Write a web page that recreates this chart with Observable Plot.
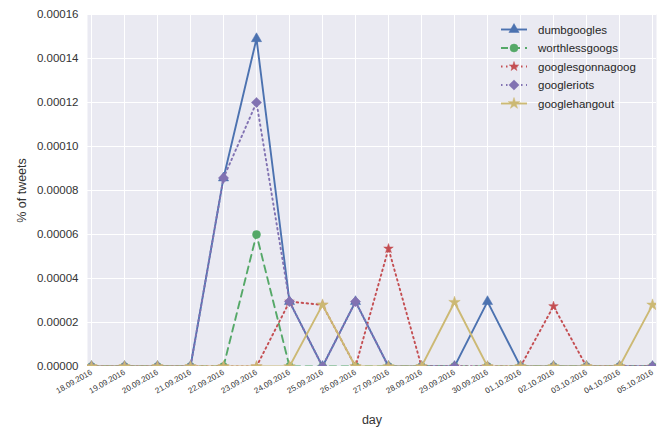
<!DOCTYPE html>
<html><head><meta charset="utf-8">
<script src="https://cdn.jsdelivr.net/npm/d3@7"></script>
<script src="https://cdn.jsdelivr.net/npm/@observablehq/plot@0.6"></script>
<style>
body{margin:0;background:#fff;font-family:"Liberation Sans",Arial,sans-serif}
#chart{position:relative;width:669px;height:430px}
</style>
</head><body><div id="chart"></div>
<script>
const days = ["18.09.2016","19.09.2016","20.09.2016","21.09.2016","22.09.2016","23.09.2016","24.09.2016","25.09.2016","26.09.2016","27.09.2016","28.09.2016","29.09.2016","30.09.2016","01.10.2016","02.10.2016","03.10.2016","04.10.2016","05.10.2016"];
const seriesNames = ["dumbgoogles","worthlessgoogs","googlesgonnagoog","googleriots","googlehangout"];
const dumbgoogles      = [0,0,0,0,0.0000857,0.000149,0.0000295,0,0.0000295,0,0,0,0.0000295,0,0,0,0,0];
const worthlessgoogs   = [0,0,0,0,0,0.00006,0,0,0,0,0,0,0,0,0,0,0,0];
const googlesgonnagoog = [0,0,0,0,0,0,0.0000295,0.0000280,0,0.0000536,0,0,0,0,0.0000274,0,0,0];
const googleriots      = [0,0,0,0,0.0000857,0.000120,0.0000295,0,0.0000295,0,0,0,0,0,0,0,0,0];
const googlehangout    = [0,0,0,0,0,0,0,0.0000280,0,0,0,0.0000292,0,0,0,0,0,0.0000280];
const yTicks = [0,0.00002,0.00004,0.00006,0.00008,0.0001,0.00012,0.00014,0.00016];

const valuesBySeries = [dumbgoogles, worthlessgoogs, googlesgonnagoog, googleriots, googlehangout];
const styles = [
  {color:"#4C72B0", dash:null,  symbol:"triangle", r:3.8},
  {color:"#55A868", dash:"7,5", symbol:"circle",   r:4},
  {color:"#C44E52", dash:"1.5,3.5", symbol:"star", r:3},
  {color:"#8172B2", dash:"1.5,3.5", symbol:"diamond2", r:4.6},
  {color:"#CCB974", dash:null,  symbol:"star",     r:3.6}
];

const marks = [
  Plot.frame({fill:"#EAEAF2", stroke:null}),
  Plot.gridX(days, {stroke:"#fff", strokeOpacity:1, strokeWidth:1}),
  Plot.gridY(yTicks, {stroke:"#fff", strokeOpacity:1, strokeWidth:1}),
  Plot.axisY(yTicks, {tickSize:0, tickPadding:9, fontSize:11.5, fill:"#333", tickFormat:d3.format(".5f"), label:"% of tweets", labelAnchor:"center", labelOffset:70, labelArrow:false}),
  Plot.axisX(days, {tickSize:0, tickPadding:5, tickRotate:-30, fontSize:8, fill:"#333", label:"day", labelAnchor:"center", labelOffset:57, labelArrow:false})
];
seriesNames.forEach((name, i) => {
  const rows = days.map((d, j) => ({day:d, value:valuesBySeries[i][j]}));
  const s = styles[i];
  marks.push(Plot.line(rows, {x:"day", y:"value", stroke:s.color, strokeWidth:1.9, strokeDasharray:s.dash, clip:true}));
  marks.push(Plot.dot(rows, {x:"day", y:"value", fill:s.color, stroke:s.color, strokeWidth:0.5, symbol:s.symbol, r:s.r, clip:true}));
});

const chart = Plot.plot({
  width:669, height:430,
  marginLeft:87, marginRight:13, marginTop:14, marginBottom:64,
  style:{fontFamily:"'Liberation Sans', Arial, sans-serif", color:"#333", background:"#fff", fontSize:"11.5px"},
  x:{type:"point", domain:days, padding:0},
  y:{domain:[0,0.00016]},
  marks
});
document.getElementById("chart").appendChild(chart);

d3.select(chart).selectAll("[aria-label='y-axis label'] text, [aria-label='x-axis label'] text").style("font-size","12.5px");

// Legend
const svg = d3.select(chart);
const lg = svg.append("g").attr("aria-label","legend").attr("text-anchor","start");
seriesNames.forEach((name, i) => {
  const s = styles[i];
  const y = 29.5 + i * 18.5;
  lg.append("line").attr("x1",501).attr("x2",527).attr("y1",y).attr("y2",y)
    .attr("stroke",s.color).attr("stroke-width",1.9).attr("stroke-dasharray",s.dash);
  const sym = {triangle:d3.symbolTriangle, circle:d3.symbolCircle, star:d3.symbolStar, diamond2:d3.symbolDiamond2}[s.symbol];
  lg.append("path").attr("transform",`translate(514,${y})`)
    .attr("d", d3.symbol(sym, Math.PI * s.r * s.r)())
    .attr("fill",s.color).attr("stroke",s.color).attr("stroke-width",0.5);
  lg.append("text").attr("x",538).attr("y",y).attr("dy","0.35em").attr("text-anchor","start")
    .attr("fill","#262626").style("font-size","11.5px").text(name);
});
</script>
</body></html>
